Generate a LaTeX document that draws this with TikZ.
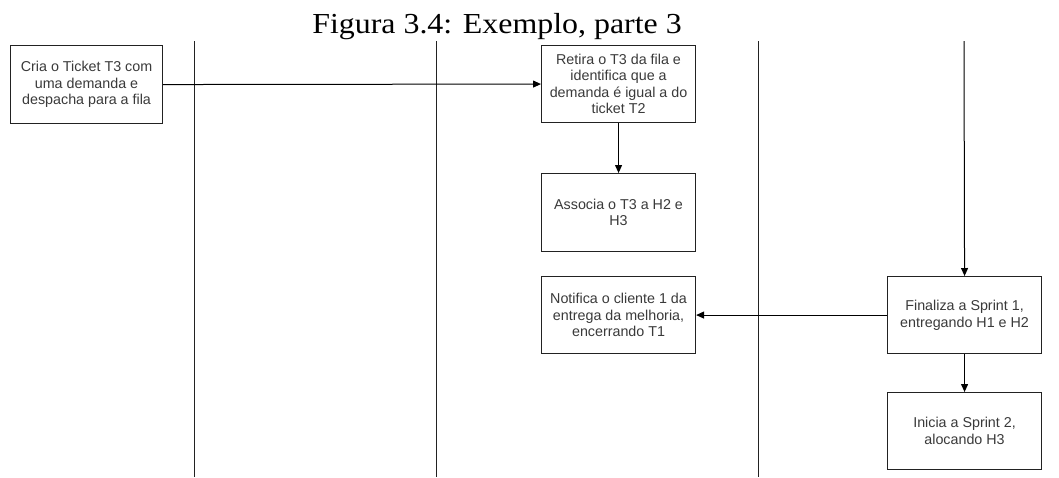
\documentclass[tikz,border=0pt]{standalone}
\usepackage{fontspec}
\setmainfont{Liberation Serif}
\newfontfamily\boxfont{Liberation Sans}
\usetikzlibrary{arrows.meta}
\definecolor{txtgray}{HTML}{3A3A3A}
\definecolor{linegray}{HTML}{222222}
\tikzset{
  stepbox/.style={draw=linegray, line width=1.1pt, fill=white, minimum width=154pt, minimum height=77pt, inner sep=1pt, align=center, font=\boxfont\fontsize{14.3}{16.5}\selectfont, text=txtgray, anchor=north west},
  lane/.style={draw=linegray, line width=1pt},
  flow/.style={draw=black, line width=1pt, -{Triangle[length=8pt,width=7pt]}}
}
\begin{document}
\begin{tikzpicture}[x=1pt,y=-1pt]
\useasboundingbox (0,0) rectangle (1059,477);
% lanes
\coordinate (l1t) at (194,41); \coordinate (l1b) at (194,477);
\coordinate (l2t) at (436,41); \coordinate (l2b) at (436,477);
\coordinate (l3t) at (758,41); \coordinate (l3b) at (758,477);
\coordinate (l4t) at (964,41);
\draw[lane] (l1t) -- (l1b);
\draw[lane] (l2t) -- (l2b);
\draw[lane] (l3t) -- (l3b);
% title
\node[font=\fontsize{29}{32}\selectfont, anchor=base, xscale=1.1, transform shape] (title) at (497,33) {Figura 3.4: Exemplo, parte 3};
% boxes
\node[stepbox, minimum width=152pt, minimum height=78pt] (cria) at (10,45) {Cria o Ticket T3 com\\uma demanda e\\despacha para a fila};
\node[stepbox, minimum height=77pt] (retira) at (541,45) {Retira o T3 da fila e\\identifica que a\\demanda é igual a do\\ticket T2};
\node[stepbox, minimum height=78pt] (associa) at (541,173) {Associa o T3 a H2 e\\H3};
\node[stepbox] (notifica) at (541,276) {Notifica o cliente 1 da\\entrega da melhoria,\\encerrando T1};
\node[stepbox] (finaliza) at (887,276) {Finaliza a Sprint 1,\\entregando H1 e H2};
\node[stepbox] (inicia) at (887,392) {Inicia a Sprint 2,\\alocando H3};
% connectors
\draw[flow] (cria.east) -- (retira.west);
\draw[flow] (retira.south) -- (associa.north);
\draw[flow] (l4t) -- (finaliza.north);
\draw[flow] (finaliza.west) -- (notifica.east);
\draw[flow] (finaliza.south) -- (inicia.north);
\end{tikzpicture}
\end{document}
